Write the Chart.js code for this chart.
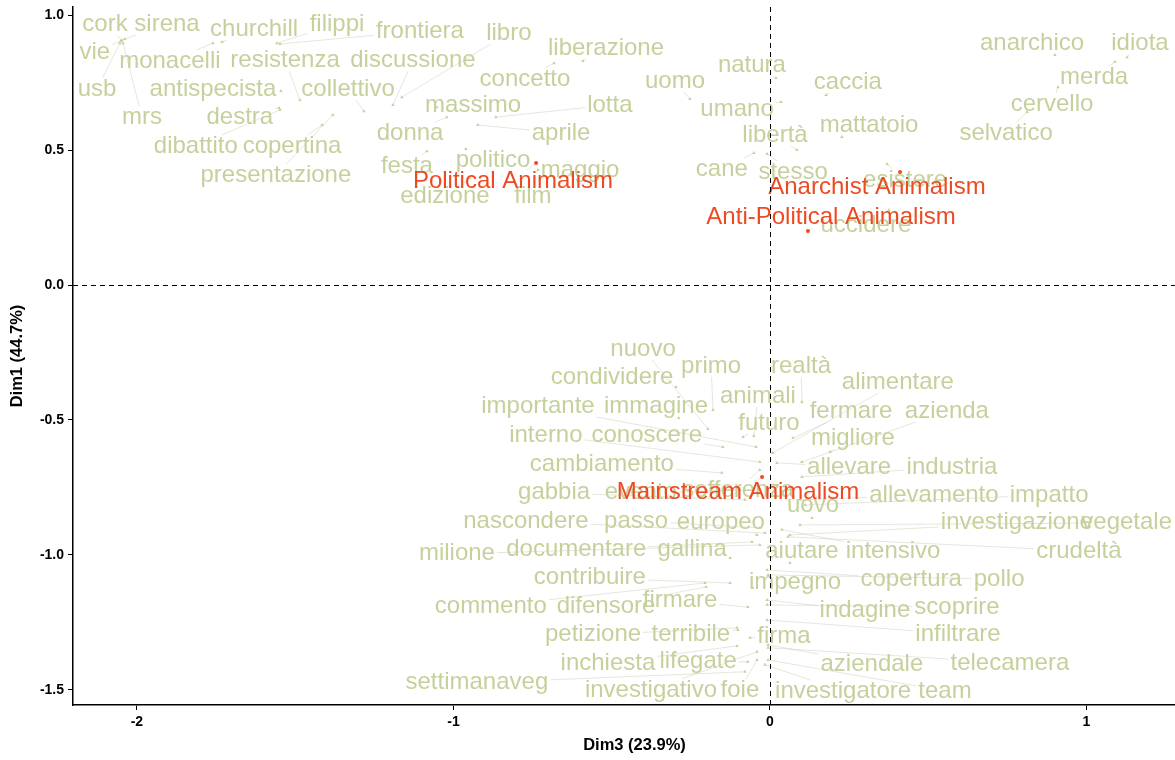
<!DOCTYPE html>
<html>
<head>
<meta charset="utf-8">
<title>Correspondence analysis: words and animalism types</title>
<script src="https://cdn.jsdelivr.net/npm/chart.js@4.4.1/dist/chart.umd.min.js"></script>
<style>
  html, body { margin: 0; padding: 0; background: #ffffff; overflow: hidden; }
  #wrap { width: 1196px; height: 760px; position: relative; }
</style>
</head>
<body>
<div id="wrap"><canvas id="ca"></canvas></div>
<script>
// Axis ticks
const xTicks = [-2, -1, 0, 1];
const yTicks = [-1.5, -1, -0.5, 0, 0.5, 1];

// Column points (words): coordinates on Dim3 (x) and Dim1 (y)
const words = [
  'cork','sirena','churchill','filippi','frontiera','vie','monacelli','resistenza','discussione','libro',
  'usb','antispecista','collettivo','mrs','destra','dibattito','copertina','presentazione','donna','massimo',
  'lotta','aprile','festa','politico','maggio','edizione','film','concetto','liberazione','uomo',
  'natura','umano','caccia','mattatoio','libertà','cane','stesso','esistere','uccidere','anarchico',
  'idiota','merda','cervello','selvatico','nuovo','primo','condividere','realtà','animali','alimentare',
  'importante','immagine','futuro','fermare','azienda','interno','conoscere','migliore','cambiamento','allevare',
  'industria','gabbia','evento','sofferenza','allevamento','impatto','uovo','nascondere','passo','europeo',
  'investigazione','vegetale','milione','documentare','gallina','aiutare','intensivo','crudeltà','contribuire','impegno',
  'copertura','pollo','commento','difensore','firmare','indagine','scoprire','petizione','terribile','firma',
  'infiltrare','inchiesta','lifegate','aziendale','telecamera','settimanaveg','investigativo','foie','investigatore','team'
];
const wordDim3 = [
  -2.047,-2.038,-1.731,-1.558,-1.548,-2.051,-1.760,-1.485,-1.191,-1.163,
  -2.054,-1.545,-1.283,-2.044,-1.551,-1.548,-1.415,-1.381,-1.021,-1.052,
  -0.866,-0.923,-1.084,-0.961,-0.733,-0.948,-0.806,-0.682,-0.591,-0.253,
  0.019,0.035,0.177,0.227,0.085,-0.051,-0.009,0.370,0.376,0.900,
  1.128,1.090,0.910,0.812,-0.196,-0.180,-0.297,0.101,-0.051,0.009,
  -0.044,-0.288,-0.085,0.073,0.101,-0.032,-0.149,0.190,-0.152,0.022,
  0.101,-0.079,-0.095,-0.032,0.095,0.111,0.133,-0.016,-0.032,-0.041,
  0.063,0.095,-0.032,-0.057,-0.126,0.063,0.038,0.057,-0.126,-0.054,
  -0.009,-0.006,-0.205,-0.202,-0.070,-0.009,-0.009,-0.104,-0.101,-0.063,
  -0.009,-0.104,-0.070,-0.006,-0.006,-0.079,-0.041,-0.041,-0.016,-0.006
];
const wordDim1 = [
  0.907,0.911,0.900,0.896,0.893,0.904,0.896,0.685,0.667,0.696,
  0.896,0.719,0.644,0.896,0.656,0.648,0.593,0.630,0.622,0.659,
  0.622,0.593,0.496,0.504,0.426,0.396,0.381,0.822,0.830,0.689,
  0.767,0.678,0.704,0.548,0.500,0.489,0.485,0.448,0.278,0.852,
  0.844,0.826,0.733,0.641,-0.533,-0.463,-0.378,-0.433,-0.559,-0.622,
  -0.600,-0.493,-0.563,-0.567,-0.656,-0.656,-0.600,-0.619,-0.696,-0.659,
  -0.711,-0.796,-0.759,-0.685,-0.796,-0.815,-0.863,-0.919,-0.900,-0.926,
  -0.926,-0.889,-0.963,-0.952,-1.011,-1.030,-0.907,-0.933,-1.104,-1.122,
  -1.056,-1.074,-1.104,-1.119,-1.193,-1.167,-1.185,-1.270,-1.278,-1.307,
  -1.241,-1.337,-1.396,-1.333,-1.344,-1.433,-1.359,-1.389,-1.407,-1.389
];
// Repelled label anchors (data units)
const wordLabelDim3 = [
  -2.101,-1.905,-1.630,-1.368,-1.106,-2.133,-1.896,-1.532,-1.128,-0.825,
  -2.126,-1.760,-1.333,-1.984,-1.675,-1.814,-1.510,-1.561,-1.137,-0.938,
  -0.506,-0.660,-1.147,-0.875,-0.600,-1.027,-0.749,-0.774,-0.518,-0.300,
  -0.057,-0.104,0.246,0.313,0.016,-0.152,0.073,0.427,0.303,0.828,
  1.169,1.024,0.891,0.746,-0.401,-0.186,-0.499,0.098,-0.038,0.404,
  -0.733,-0.360,-0.003,0.256,0.559,-0.708,-0.389,0.262,-0.531,0.250,
  0.575,-0.682,-0.408,-0.101,0.518,0.882,0.136,-0.771,-0.423,-0.155,
  0.780,1.127,-0.989,-0.612,-0.246,0.101,0.389,0.976,-0.569,0.079,
  0.446,0.724,-0.882,-0.518,-0.284,0.300,0.591,-0.559,-0.250,0.044,
  0.594,-0.512,-0.227,0.322,0.758,-0.926,-0.376,-0.095,0.231,0.553
];
const wordLabelDim1 = [
  0.967,0.967,0.948,0.967,0.941,0.863,0.830,0.833,0.833,0.933,
  0.726,0.726,0.726,0.622,0.622,0.515,0.515,0.407,0.563,0.667,
  0.667,0.563,0.441,0.463,0.426,0.330,0.330,0.763,0.878,0.756,
  0.815,0.652,0.752,0.593,0.556,0.430,0.419,0.389,0.222,0.896,
  0.896,0.770,0.670,0.563,-0.237,-0.300,-0.344,-0.300,-0.411,-0.359,
  -0.448,-0.448,-0.511,-0.467,-0.467,-0.556,-0.556,-0.570,-0.663,-0.674,
  -0.674,-0.770,-0.770,-0.759,-0.778,-0.778,-0.815,-0.874,-0.874,-0.881,
  -0.881,-0.881,-0.996,-0.981,-0.981,-0.985,-0.985,-0.985,-1.085,-1.100,
  -1.089,-1.089,-1.189,-1.189,-1.170,-1.207,-1.193,-1.296,-1.293,-1.300,
  -1.293,-1.400,-1.396,-1.404,-1.400,-1.474,-1.500,-1.500,-1.504,-1.504
];

// Row points (animalism types)
const groups = ['Political Animalism','Anarchist Animalism','Anti-Political Animalism','Mainstream Animalism'];
const groupDim3 = [-0.739, 0.411, 0.120, -0.025];
const groupDim1 = [0.452, 0.419, 0.200, -0.711];
const groupLabelDim3 = [-0.812, 0.338, 0.193, -0.101];
const groupLabelDim1 = [0.385, 0.363, 0.252, -0.770];

const WORD_COLOR = 'rgb(197,209,156)';
const GROUP_COLOR = 'rgb(238,74,34)';
const SEGMENT_COLOR = 'rgba(196,202,180,0.75)';
const LABEL_FONT = '24px "Liberation Sans", Arial, sans-serif';

function drawSegment(ctx, text, px, py, lx, ly) {
  const hw = ctx.measureText(text).width / 2 + 2;
  const hh = 11;
  const dx = px - lx, dy = py - ly;
  if (Math.abs(dx) <= hw && Math.abs(dy) <= hh) return;
  const t = Math.min(hw / Math.max(Math.abs(dx), 1e-9), hh / Math.max(Math.abs(dy), 1e-9));
  const sx = lx + dx * t, sy = ly + dy * t;
  if (Math.hypot(px - sx, py - sy) < 3) return;
  ctx.beginPath();
  ctx.moveTo(sx, sy);
  ctx.lineTo(px, py);
  ctx.stroke();
}

const repelLabels = {
  id: 'repelLabels',
  beforeDatasetsDraw(chart) {
    const { ctx, scales: { x, y } } = chart;
    ctx.save();
    ctx.font = LABEL_FONT;
    ctx.strokeStyle = SEGMENT_COLOR;
    ctx.lineWidth = 0.6;
    words.forEach((w, i) => {
      drawSegment(ctx, w,
        x.getPixelForValue(wordDim3[i]), y.getPixelForValue(wordDim1[i]),
        x.getPixelForValue(wordLabelDim3[i]), y.getPixelForValue(wordLabelDim1[i]));
    });
    groups.forEach((g, i) => {
      drawSegment(ctx, g,
        x.getPixelForValue(groupDim3[i]), y.getPixelForValue(groupDim1[i]),
        x.getPixelForValue(groupLabelDim3[i]), y.getPixelForValue(groupLabelDim1[i]));
    });
    ctx.restore();
  },
  afterDatasetsDraw(chart) {
    const { ctx, chartArea: a, scales: { x, y } } = chart;
    ctx.save();
    ctx.font = LABEL_FONT;
    ctx.textAlign = 'center';
    ctx.textBaseline = 'middle';
    ctx.fillStyle = WORD_COLOR;
    words.forEach((w, i) => {
      ctx.fillText(w, x.getPixelForValue(wordLabelDim3[i]), y.getPixelForValue(wordLabelDim1[i]));
    });
    ctx.fillStyle = GROUP_COLOR;
    groups.forEach((g, i) => {
      ctx.fillText(g, x.getPixelForValue(groupLabelDim3[i]), y.getPixelForValue(groupLabelDim1[i]));
    });
    // origin reference lines
    ctx.strokeStyle = '#000';
    ctx.lineWidth = 1;
    ctx.setLineDash([5, 4]);
    const x0 = Math.round(x.getPixelForValue(0)) + 0.5;
    const y0 = Math.round(y.getPixelForValue(0)) + 0.5;
    ctx.beginPath();
    ctx.moveTo(x0, a.top); ctx.lineTo(x0, a.bottom);
    ctx.moveTo(a.left, y0); ctx.lineTo(a.right, y0);
    ctx.stroke();
    ctx.restore();
  }
};

const tickFont = { family: '"Liberation Sans", Arial, sans-serif', size: 14, weight: 'bold' };
const titleFont = { family: '"Liberation Sans", Arial, sans-serif', size: 16.5, weight: 'bold' };

new Chart(document.getElementById('ca'), {
  type: 'scatter',
  data: {
    datasets: [
      {
        label: 'words',
        data: wordDim3.map((v, i) => ({ x: v, y: wordDim1[i] })),
        pointStyle: 'triangle',
        pointRadius: 2,
        backgroundColor: WORD_COLOR,
        borderColor: WORD_COLOR,
        borderWidth: 0
      },
      {
        label: 'types',
        data: groupDim3.map((v, i) => ({ x: v, y: groupDim1[i] })),
        pointStyle: 'circle',
        pointRadius: 2,
        backgroundColor: GROUP_COLOR,
        borderColor: GROUP_COLOR,
        borderWidth: 0
      }
    ]
  },
  options: {
    responsive: true,
    maintainAspectRatio: false,
    animation: false,
    layout: { autoPadding: false, padding: { top: 7, right: 0, bottom: 0, left: 0 } },
    plugins: { legend: { display: false }, tooltip: { enabled: false } },
    scales: {
      x: {
        type: 'linear',
        min: -2.202,
        max: 1.346,
        afterBuildTicks: s => { s.ticks = xTicks.map(v => ({ value: v })); },
        afterFit: s => { s.height = 55; s.paddingLeft = 0; s.paddingRight = 0; },
        ticks: { font: tickFont, color: '#000', padding: 4, callback: v => String(v) },
        grid: { display: true, drawOnChartArea: false, drawTicks: true, tickLength: 5, color: '#000', lineWidth: 1 },
        border: { display: true, color: '#000', width: 1.5 },
        title: { display: true, text: 'Dim3 (23.9%)', font: titleFont, color: '#000', padding: { top: 0, bottom: 5 } }
      },
      y: {
        type: 'linear',
        min: -1.556,
        max: 1.03,
        afterBuildTicks: s => { s.ticks = yTicks.map(v => ({ value: v })); },
        afterFit: s => { s.width = 73; s.paddingTop = 0; s.paddingBottom = 0; },
        ticks: { font: tickFont, color: '#000', padding: 4, callback: v => Number(v).toFixed(1) },
        grid: { display: true, drawOnChartArea: false, drawTicks: true, tickLength: 5, color: '#000', lineWidth: 1 },
        border: { display: true, color: '#000', width: 1.5 },
        title: { display: true, text: 'Dim1 (44.7%)', font: titleFont, color: '#000', padding: { top: 8, bottom: 0 } }
      }
    }
  },
  plugins: [repelLabels]
});
</script>
</body>
</html>
